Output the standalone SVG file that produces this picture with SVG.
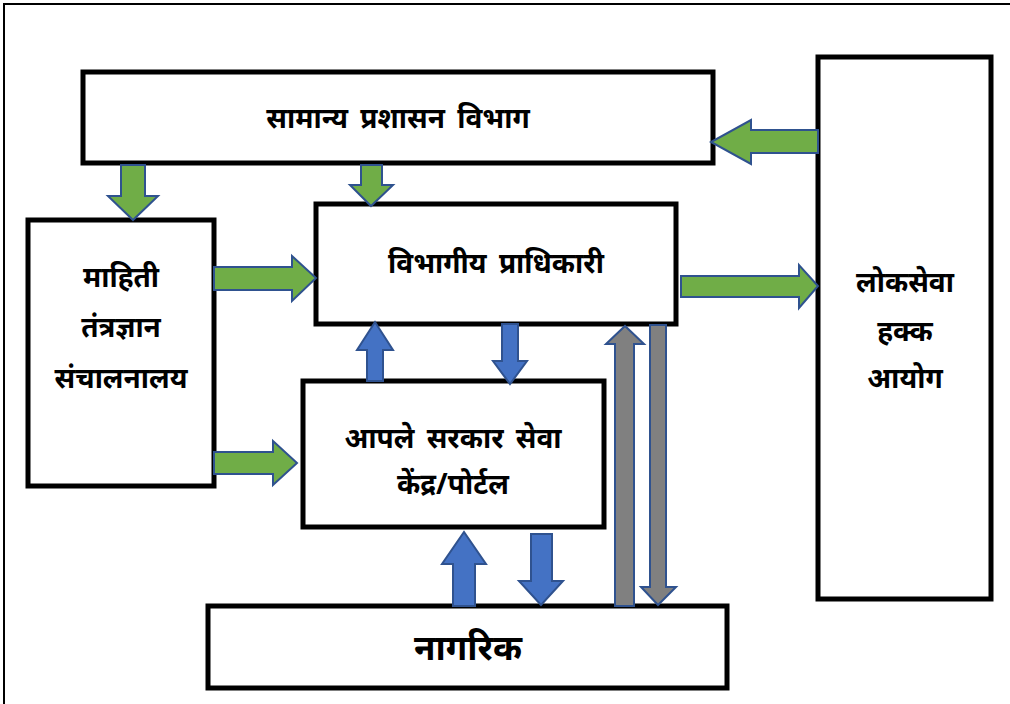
<svg xmlns="http://www.w3.org/2000/svg" width="1010" height="704" viewBox="0 0 1010 704">
<style>
.box{fill:#fff;stroke:#000;stroke-width:5}
.t{font-family:"Noto Sans","Noto Sans Devanagari","DejaVu Sans",sans-serif;font-weight:bold;font-size:28px;word-spacing:5px;fill:#000;text-anchor:middle}
.g{fill:#70AD47;stroke:#2F528F;stroke-width:2}
.b{fill:#4472C4;stroke:#2F528F;stroke-width:2}
.y{fill:#808080;stroke:#2F528F;stroke-width:2}
</style>
<rect width="1010" height="704" fill="#fff"/>
<path d="M4 704 V4 H1010" fill="none" stroke="#000" stroke-width="2"/>
<g id="samanya-prashasan">
<rect class="box" x="83" y="72" width="630" height="91"/>
<text class="t" x="398" y="128">सामान्य प्रशासन विभाग</text>
</g>
<g id="mahiti">
<rect class="box" x="28" y="220" width="186" height="266"/>
<text class="t" x="121" y="287">माहिती</text>
<text class="t" x="121" y="337">तंत्रज्ञान</text>
<text class="t" x="121" y="388">संचालनालय</text>
</g>
<g id="vibhagiya">
<rect class="box" x="316" y="204" width="360" height="120"/>
<text class="t" x="496" y="273">विभागीय प्राधिकारी</text>
</g>
<g id="aaple-sarkar">
<rect class="box" x="303" y="381" width="301" height="146"/>
<text class="t" x="453" y="448">आपले सरकार सेवा</text>
<text class="t" x="453" y="494">केंद्र/पोर्टल</text>
</g>
<g id="nagarik">
<rect class="box" x="208" y="606" width="519" height="82"/>
<text class="t" x="468" y="660" style="font-size:35px">नागरिक</text>
</g>
<g id="lokseva">
<rect class="box" x="818" y="57" width="173" height="542"/>
<text class="t" x="905" y="292">लोकसेवा</text>
<text class="t" x="905" y="341">हक्क</text>
<text class="t" x="905" y="388">आयोग</text>
</g>
<g id="connectors">
<path class="g" d="M121 165 H145 V196 H158 L133 220 L108 196 H121 Z"/>
<path class="g" d="M361 165 H382 V185 H393 L371 206 L350 185 H361 Z"/>
<path class="g" d="M818 130 V153 H751 V164 L711 142 L751 120 V130 Z"/>
<path class="g" d="M214 267 H292 V256 L316 278 L292 301 V290 H214 Z"/>
<path class="g" d="M681 276 H799 V265 L818 286 L799 308 V297 H681 Z"/>
<path class="g" d="M214 452 H273 V441 L297 463 L273 485 V474 H214 Z"/>
<path class="b" d="M367 381 V350 H357 L375 322 L393 350 H383 V381 Z"/>
<path class="b" d="M502 324 H518 V361 H527 L510 384 L493 361 H502 Z"/>
<path class="b" d="M453 606 V564 H442 L464 532 L486 564 H475 V606 Z"/>
<path class="b" d="M531 534 H552 V581 H563 L541 605 L519 581 H531 Z"/>
<path class="y" d="M615 606 V344 H606 L625 326 L644 344 H634 V606 Z"/>
<path class="y" d="M650 325 H666 V587 H676 L658 605 L641 587 H650 Z"/>
</g>
</svg>
